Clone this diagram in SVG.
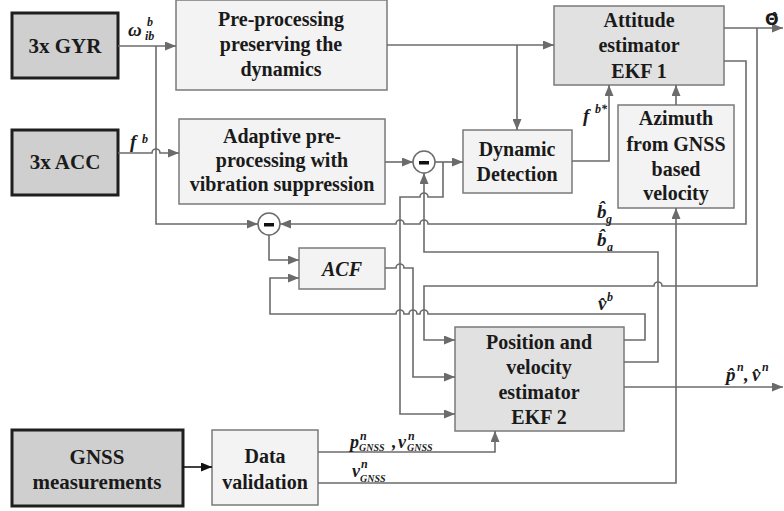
<svg xmlns="http://www.w3.org/2000/svg" width="784" height="511" viewBox="0 0 784 511">
  <defs>
    <marker id="arr" markerUnits="userSpaceOnUse" markerWidth="11" markerHeight="9" refX="11" refY="4.5" orient="auto">
      <path d="M0,0 L11,4.5 L0,9 z" fill="#6b6b6b"/>
    </marker>
    <marker id="arrk" markerUnits="userSpaceOnUse" markerWidth="11" markerHeight="9" refX="11" refY="4.5" orient="auto">
      <path d="M0,0 L11,4.5 L0,9 z" fill="#111"/>
    </marker>
  </defs>
  <style>
    .sensor { fill: #cfcfcf; stroke: #1e1e1e; stroke-width: 3; }
    .light { fill: #f3f3f3; stroke: #7a7a7a; stroke-width: 1.5; }
    .est { fill: #e1e1e1; stroke: #7a7a7a; stroke-width: 1.5; }
    .sum { fill: #ffffff; stroke: #6b6b6b; stroke-width: 1.5; }
    text { font-family: "Liberation Serif", "Liberation Sans", serif; fill: #1a1a1a; }
    .lbl { font-weight: bold; font-size: 20px; text-anchor: middle; }
    .big { font-size: 21px; }
    .it { font-style: italic; }
    .math { font-weight: bold; font-style: italic; font-size: 19px; }
    .m18 { font-size: 18px; }
    .sm { font-size: 12px; }
    .xs { font-size: 10px; }
    .theta { font-family: "DejaVu Sans", sans-serif; font-weight: bold; font-style: normal; font-size: 16px; }
    .wire { fill: none; stroke: #6b6b6b; stroke-width: 1.6; }
    .wirek { fill: none; stroke: #111; stroke-width: 1.6; }
  </style>

  <!-- sensors -->
  <g id="gyr">
    <rect class="sensor" x="12" y="13" width="106" height="65"/>
    <text class="lbl big" x="65" y="53">3x GYR</text>
  </g>
  <g id="acc">
    <rect class="sensor" x="12" y="130" width="106" height="65"/>
    <text class="lbl big" x="65" y="169">3x ACC</text>
  </g>
  <g id="gnss">
    <rect class="sensor" x="12" y="430" width="171" height="76"/>
    <text class="lbl big" x="97" y="464">GNSS</text>
    <text class="lbl big" x="97" y="489">measurements</text>
  </g>

  <!-- processing blocks -->
  <g id="preproc">
    <rect class="light" x="176" y="0" width="211" height="90"/>
    <text class="lbl" x="281" y="26">Pre-processing</text>
    <text class="lbl" x="281" y="51">preserving the</text>
    <text class="lbl" x="281" y="76">dynamics</text>
  </g>
  <g id="adaptive">
    <rect class="light" x="179" y="119" width="206" height="85"/>
    <text class="lbl" x="282" y="143">Adaptive pre-</text>
    <text class="lbl" x="282" y="167">processing with</text>
    <text class="lbl" x="282" y="191">vibration suppression</text>
  </g>
  <g id="sum1">
    <circle class="sum" cx="424" cy="162" r="11"/>
    <rect x="419" y="161" width="10" height="3.5" fill="#111"/>
  </g>
  <g id="dyndet">
    <rect class="light" x="463" y="130" width="109" height="63"/>
    <text class="lbl" x="517" y="156">Dynamic</text>
    <text class="lbl" x="517" y="181">Detection</text>
  </g>
  <g id="ekf1">
    <rect class="est" x="554" y="6" width="170" height="79"/>
    <text class="lbl" x="639" y="27">Attitude</text>
    <text class="lbl" x="639" y="52">estimator</text>
    <text class="lbl" x="639" y="78">EKF 1</text>
  </g>
  <g id="azimuth">
    <rect class="light" x="618" y="105" width="116" height="103"/>
    <text class="lbl" x="676" y="125">Azimuth</text>
    <text class="lbl" x="676" y="151">from GNSS</text>
    <text class="lbl" x="676" y="176">based</text>
    <text class="lbl" x="676" y="200">velocity</text>
  </g>
  <g id="sum2">
    <circle class="sum" cx="269" cy="224" r="11"/>
    <rect x="264" y="223" width="10" height="3.5" fill="#111"/>
  </g>
  <g id="acf">
    <rect class="light" x="299" y="248" width="86" height="41"/>
    <text class="lbl it" x="342" y="276">ACF</text>
  </g>
  <g id="ekf2">
    <rect class="est" x="455" y="327" width="169" height="104"/>
    <text class="lbl" x="539" y="349">Position and</text>
    <text class="lbl" x="539" y="374">velocity</text>
    <text class="lbl" x="539" y="399">estimator</text>
    <text class="lbl" x="539" y="424">EKF 2</text>
  </g>
  <g id="validation">
    <rect class="light" x="212" y="430" width="106" height="75"/>
    <text class="lbl" x="265" y="463">Data</text>
    <text class="lbl" x="265" y="489">validation</text>
  </g>

  <!-- connectors -->
  <g id="connectors">
    <path class="wire" d="M118,46 H176" marker-end="url(#arr)"/>
    <path class="wire" d="M156,46 V224 H258" marker-end="url(#arr)"/>
    <path class="wire" d="M118,153 H152 A4,4 0 0 1 160,153 H179" marker-end="url(#arr)"/>
    <path class="wire" d="M387,45 H554" marker-end="url(#arr)"/>
    <path class="wire" d="M517,45 V130" marker-end="url(#arr)"/>
    <path class="wire" d="M385,162 H413" marker-end="url(#arr)"/>
    <path class="wire" d="M435,162 H463" marker-end="url(#arr)"/>
    <path class="wire" d="M443,162 V197 H428 A4,4 0 0 0 420,197 H400 V414 H455" marker-end="url(#arr)"/>
    <path class="wire" d="M572,161 H609 V85" marker-end="url(#arr)"/>
    <path class="wire" d="M676,105 V85" marker-end="url(#arr)"/>
    <path class="wire" d="M724,28 H783" marker-end="url(#arr)"/>
    <path class="wire" d="M757,28 V286 H662 A4,4 0 0 0 654,286 H424 V340 H455" marker-end="url(#arr)"/>
    <path class="wire" d="M724,61 H746 V224 H428 A4,4 0 0 0 420,224 H404 A4,4 0 0 0 396,224 H280" marker-end="url(#arr)"/>
    <path class="wire" d="M624,362 H658 V252 H424 V173" marker-end="url(#arr)"/>
    <path class="wire" d="M624,340 H645 V314 H428 A4,4 0 0 0 420,314 H417 A4,4 0 0 0 409,314 H404 A4,4 0 0 0 396,314 H270 V278 H299" marker-end="url(#arr)"/>
    <path class="wire" d="M269,235 V260 H299" marker-end="url(#arr)"/>
    <path class="wire" d="M385,268 H396 A4,4 0 0 1 404,268 H413 V377 H455" marker-end="url(#arr)"/>
    <path class="wire" d="M318,452 H495 V431" marker-end="url(#arr)"/>
    <path class="wire" d="M318,483 H676 V208" marker-end="url(#arr)"/>
    <path class="wire" d="M624,387 H783" marker-end="url(#arr)"/>
    <path class="wirek" d="M183,467 H212" marker-end="url(#arrk)"/>
  </g>

  <!-- signal labels -->
  <g id="labels">
    <text class="math" x="128" y="36">ω</text>
    <text class="math sm" x="147" y="26">b</text>
    <text class="math sm" x="145" y="40">ib</text>

    <text class="math" x="130" y="148">f</text>
    <text class="math sm" x="142" y="143">b</text>

    <text class="math" x="583" y="122">f</text>
    <text class="math sm" x="595" y="113">b*</text>

    <text class="theta" x="765" y="25">Θ̂</text>

    <text class="math" x="597" y="218">b̂</text>
    <text class="math sm" x="606" y="223">g</text>

    <text class="math" x="597" y="246">b̂</text>
    <text class="math sm" x="607" y="251">a</text>

    <text class="math" x="598" y="310">v̂</text>
    <text class="math sm" x="607" y="301">b</text>

    <text class="math" x="726" y="381">p̂</text>
    <text class="math sm" x="737" y="371">n</text>
    <text class="math" x="744" y="381">,</text>
    <text class="math" x="752" y="381">v̂</text>
    <text class="math sm" x="762" y="371">n</text>

    <text class="math m18" x="350" y="448">p</text>
    <text class="math sm" x="360" y="440">n</text>
    <text class="math xs" x="359" y="451">GNSS</text>
    <text class="math m18" x="392" y="448">,</text>
    <text class="math m18" x="398" y="448">v</text>
    <text class="math sm" x="408" y="440">n</text>
    <text class="math xs" x="407" y="451">GNSS</text>

    <text class="math m18" x="352" y="477">v</text>
    <text class="math sm" x="361" y="468">n</text>
    <text class="math xs" x="360" y="482">GNSS</text>
  </g>
</svg>
